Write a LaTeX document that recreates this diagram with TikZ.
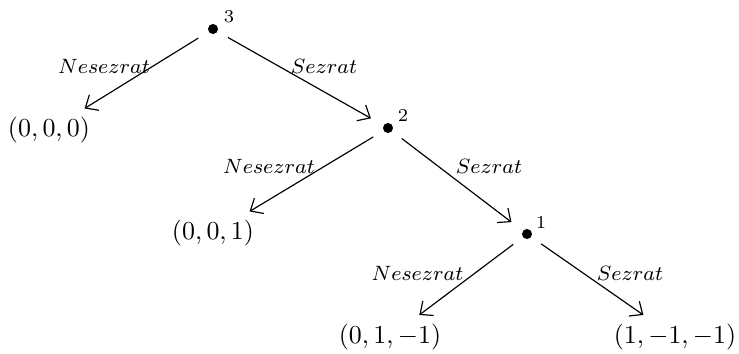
\documentclass[tikz,border=0pt]{standalone}
\usetikzlibrary{arrows.meta}
\begin{document}
\begin{tikzpicture}[x=0.386pt,y=-0.386pt]
\tikzset{
  dot/.style={circle,fill,inner sep=0pt,minimum size=3.9pt},
  tuple/.style={inner sep=3.3pt},
  lbl/.style={font=\fontsize{8}{9.5}\selectfont, inner sep=0pt, anchor=base},
  num/.style={font=\fontsize{7}{8}\selectfont, inner sep=0pt},
  arr/.style={-{Straight Barb[length=4pt,width=7pt]}, line width=0.45pt, shorten <=4.5pt},
  dd/.style={arr, shorten >=5.4pt},
}
\useasboundingbox (0,0) rectangle (739,353);
\node[dot] (d3) at (213,29) {};
\node[dot] (d2) at (388,128) {};
\node[dot] (d1) at (527,234) {};
\node[num] (n3) at (229,17) {3};
\node[num] (n2) at (403,115) {2};
\node[num] (n1) at (541,222) {1};
\node[tuple] (t0) at (49,130.5) {$(0,0,0)$};
\node[tuple] (t1) at (213,233.5) {$(0,0,1)$};
\node[tuple] (t2) at (390,337) {$(0,1,-1)$};
\node[tuple] (t3) at (675,337) {$(1,-1,-1)$};
\draw[arr] (d3) -- (t0);
\draw[dd] (d3) -- (d2);
\draw[arr] (d2) -- (t1);
\draw[dd] (d2) -- (d1);
\draw[arr] (d1) -- (t2);
\draw[arr] (d1) -- (t3);
\node[lbl] (l1) at (104,73) {$Nesezrat$};
\node[lbl] (l2) at (324,73) {$Sezrat$};
\node[lbl] (l3) at (269,173) {$Nesezrat$};
\node[lbl] (l4) at (489,173) {$Sezrat$};
\node[lbl] (l5) at (417.5,280) {$Nesezrat$};
\node[lbl] (l6) at (630,280) {$Sezrat$};
\end{tikzpicture}
\end{document}
